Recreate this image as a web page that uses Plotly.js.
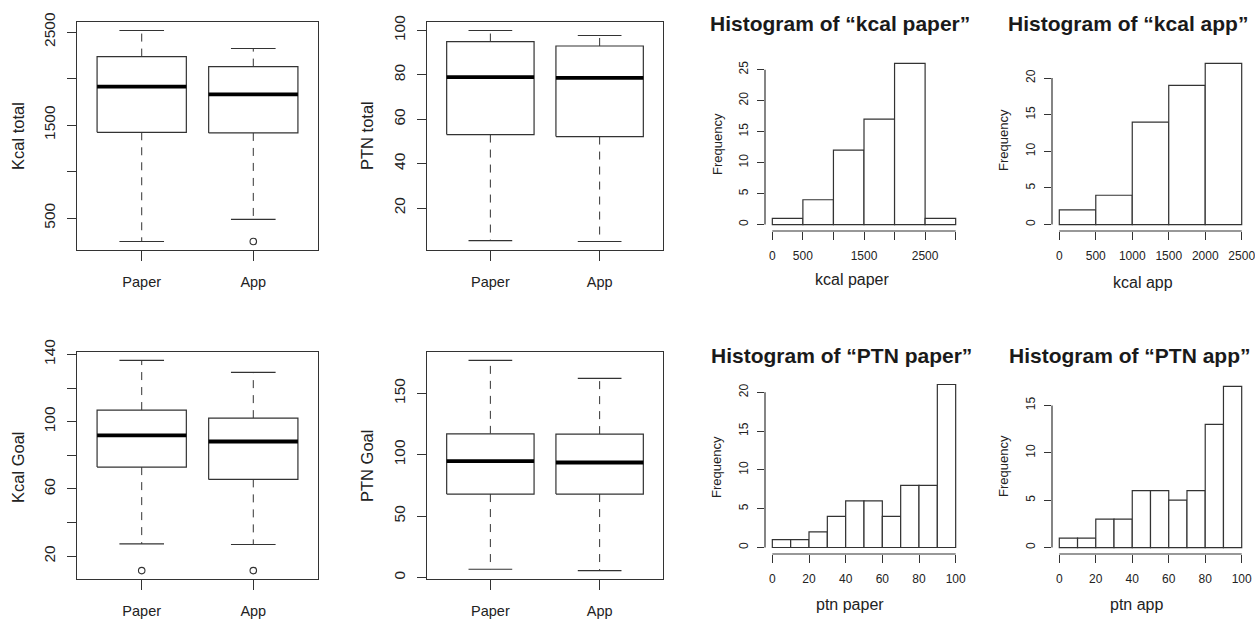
<!DOCTYPE html>
<html><head><meta charset="utf-8">
<script src="https://cdn.plot.ly/plotly-3.0.1.min.js"></script>
<style>html,body{margin:0;padding:0;background:#fff}#chart{width:1255px;height:620px}</style>
</head><body><div id="chart"></div>
<script>
const groups = ['Paper', 'App'];

// ---- Box plot statistics ----
const kcalTotalLower = [247, 485];
const kcalTotalQ1 = [1422, 1415];
const kcalTotalMedian = [1912, 1830];
const kcalTotalQ3 = [2236, 2128];
const kcalTotalUpper = [2517, 2323];
const kcalTotalOutliers = [[], [247]];
const kcalTotalTicks = [500, 1000, 1500, 2000, 2500];
const kcalTotalTickText = ['500', '', '1500', '', '2500'];

const ptnTotalLower = [5.3, 4.9];
const ptnTotalQ1 = [53.1, 52.2];
const ptnTotalMedian = [79.0, 78.6];
const ptnTotalQ3 = [95.0, 93.0];
const ptnTotalUpper = [100, 97.7];
const ptnTotalOutliers = [[], []];
const ptnTotalTicks = [20, 40, 60, 80, 100];
const ptnTotalTickText = ['20', '40', '60', '80', '100'];

const kcalGoalLower = [27.4, 27.0];
const kcalGoalQ1 = [73.0, 65.7];
const kcalGoalMedian = [91.8, 88.2];
const kcalGoalQ3 = [106.9, 102.1];
const kcalGoalUpper = [136.4, 129.3];
const kcalGoalOutliers = [[11.5], [11.5]];
const kcalGoalTicks = [20, 40, 60, 80, 100, 120, 140];
const kcalGoalTickText = ['20', '', '60', '', '100', '', '140'];

const ptnGoalLower = [6.8, 5.7];
const ptnGoalQ1 = [68, 68];
const ptnGoalMedian = [94.8, 93.7];
const ptnGoalQ3 = [117, 116.8];
const ptnGoalUpper = [176.8, 162.2];
const ptnGoalOutliers = [[], []];
const ptnGoalTicks = [0, 50, 100, 150];
const ptnGoalTickText = ['0', '50', '100', '150'];

// ---- Histograms ----
const kcalPaperEdges = [0, 500, 1000, 1500, 2000, 2500, 3000];
const kcalPaperCounts = [1, 4, 12, 17, 26, 1];
const kcalPaperXTicks = [0, 500, 1000, 1500, 2000, 2500, 3000];
const kcalPaperXTickText = ['0', '500', '', '1500', '', '2500', ''];
const kcalPaperYTicks = [0, 5, 10, 15, 20, 25];

const kcalAppEdges = [0, 500, 1000, 1500, 2000, 2500];
const kcalAppCounts = [2, 4, 14, 19, 22];
const kcalAppXTicks = [0, 500, 1000, 1500, 2000, 2500];
const kcalAppXTickText = ['0', '500', '1000', '1500', '2000', '2500'];
const kcalAppYTicks = [0, 5, 10, 15, 20];

const ptnPaperEdges = [0, 10, 20, 30, 40, 50, 60, 70, 80, 90, 100];
const ptnPaperCounts = [1, 1, 2, 4, 6, 6, 4, 8, 8, 21];
const ptnPaperXTicks = [0, 20, 40, 60, 80, 100];
const ptnPaperXTickText = ['0', '20', '40', '60', '80', '100'];
const ptnPaperYTicks = [0, 5, 10, 15, 20];

const ptnAppEdges = [0, 10, 20, 30, 40, 50, 60, 70, 80, 90, 100];
const ptnAppCounts = [1, 1, 3, 3, 6, 6, 5, 6, 13, 17];
const ptnAppXTicks = [0, 20, 40, 60, 80, 100];
const ptnAppXTickText = ['0', '20', '40', '60', '80', '100'];
const ptnAppYTicks = [0, 5, 10, 15];

// ---- Layout helpers ----
const W = 1255, H = 620;
const FONT = '"Liberation Sans", Arial, sans-serif';
const INK = '#333';
const TXT = '#222';
const dX = (a, b) => [a / W, b / W];
const dY = (top, bottom) => [1 - bottom / H, 1 - top / H];
const ax = k => (k === 1 ? '' : String(k));

const traces = [];
const layout = {
  width: W, height: H,
  margin: {l: 0, r: 0, t: 0, b: 0},
  paper_bgcolor: '#fff', plot_bgcolor: 'rgba(0,0,0,0)',
  showlegend: false,
  font: {family: FONT, color: TXT},
  shapes: [], annotations: []
};

function rExt(lo, hi) { const s = hi - lo; return [lo - 0.04 * s, hi + 0.04 * s]; }

function addBox(k, xd, yd, lower, q1, med, q3, upper, outl, ticks, tickText, ytitle, titlePos) {
  const xa = 'x' + ax(k), ya = 'y' + ax(k);
  const rx = [], ry = [], mx = [], my = [], wx = [], wy = [], cx = [], cy = [], ox = [], oy = [];
  const hw = 0.4, cw = 0.2;
  let lo = Infinity, hi = -Infinity;
  for (let i = 0; i < groups.length; i++) {
    const c = i + 1;
    rx.push(c - hw, c + hw, c + hw, c - hw, c - hw, null);
    ry.push(q1[i], q1[i], q3[i], q3[i], q1[i], null);
    mx.push(c - hw, c + hw, null); my.push(med[i], med[i], null);
    wx.push(c, c, null, c, c, null); wy.push(q3[i], upper[i], null, q1[i], lower[i], null);
    cx.push(c - cw, c + cw, null, c - cw, c + cw, null);
    cy.push(upper[i], upper[i], null, lower[i], lower[i], null);
    outl[i].forEach(v => { ox.push(c); oy.push(v); lo = Math.min(lo, v); hi = Math.max(hi, v); });
    lo = Math.min(lo, lower[i]); hi = Math.max(hi, upper[i]);
  }
  const base = {type: 'scatter', mode: 'lines', xaxis: xa, yaxis: ya, hoverinfo: 'skip', cliponaxis: false};
  traces.push(Object.assign({}, base, {x: wx, y: wy, line: {color: INK, width: 1, dash: '8px,7px'}}));
  traces.push(Object.assign({}, base, {x: cx, y: cy, line: {color: INK, width: 1.1}}));
  traces.push(Object.assign({}, base, {x: rx, y: ry, line: {color: INK, width: 1.2}, fill: 'toself', fillcolor: '#fff'}));
  traces.push(Object.assign({}, base, {x: mx, y: my, line: {color: '#000', width: 3.8}}));
  if (ox.length) traces.push(Object.assign({}, base, {mode: 'markers', x: ox, y: oy,
    marker: {symbol: 'circle-open', size: 6.5, color: INK, line: {width: 1.1, color: INK}}}));
  layout['xaxis' + ax(k)] = {
    domain: dX(xd[0], xd[1]), anchor: ya, range: [0.42, 2.58],
    tickvals: [1, 2], ticktext: groups, ticks: 'outside', ticklen: 10, tickcolor: INK, tickwidth: 1,
    showline: true, mirror: true, linecolor: INK, linewidth: 1, showgrid: false, zeroline: false,
    tickfont: {size: 14.5, color: TXT}, ticklabelstandoff: 9, fixedrange: true
  };
  layout['yaxis' + ax(k)] = {
    domain: dY(yd[0], yd[1]), anchor: xa, range: rExt(lo, hi),
    tickvals: ticks, ticktext: tickText, ticks: 'outside', ticklen: 9, tickcolor: INK, tickwidth: 1,
    showline: true, mirror: true, linecolor: INK, linewidth: 1, showgrid: false, zeroline: false,
    tickangle: -90, tickfont: {size: 15.5, color: TXT}, ticklabelstandoff: 6, fixedrange: true
  };
  layout.annotations.push({text: ytitle, xref: 'paper', yref: 'paper', x: titlePos[0] / W, y: 1 - titlePos[1] / H,
    xanchor: 'center', yanchor: 'middle', textangle: -90, showarrow: false, font: {size: 16.5, color: TXT}});
}

function addHist(k, xd, yd, edges, counts, xticks, xtickText, yticks, title, titlePos, xtitle, xtitlePos, ftitlePos) {
  const xa = 'x' + ax(k), ya = 'y' + ax(k);
  const mids = [], widths = [];
  for (let i = 0; i < counts.length; i++) { mids.push((edges[i] + edges[i + 1]) / 2); widths.push(edges[i + 1] - edges[i]); }
  traces.push({type: 'bar', x: mids, y: counts, width: widths, xaxis: xa, yaxis: ya, hoverinfo: 'skip',
    marker: {color: '#fff', line: {color: INK, width: 1.2}}});
  const ymax = Math.max.apply(null, counts);
  layout['xaxis' + ax(k)] = {
    domain: dX(xd[0], xd[1]), anchor: ya, range: rExt(edges[0], edges[edges.length - 1]),
    tickvals: xticks, ticktext: xtickText, ticks: 'outside', ticklen: 8, tickcolor: INK, tickwidth: 1,
    showline: false, showgrid: false, zeroline: false, tickfont: {size: 12, color: TXT},
    ticklabelstandoff: 6, ticklabeloverflow: 'allow', fixedrange: true
  };
  layout['yaxis' + ax(k)] = {
    domain: dY(yd[0], yd[1]), anchor: xa, range: rExt(0, ymax),
    tickvals: yticks, ticks: 'outside', ticklen: 7, tickcolor: INK, tickwidth: 1,
    showline: false, showgrid: false, zeroline: false, tickangle: -90, tickfont: {size: 12, color: TXT},
    ticklabelstandoff: 4, fixedrange: true
  };
  layout.shapes.push({type: 'line', xref: xa, yref: ya + ' domain', x0: xticks[0], x1: xticks[xticks.length - 1],
    y0: 0, y1: 0, line: {color: INK, width: 1.2}});
  layout.shapes.push({type: 'line', xref: xa + ' domain', yref: ya, x0: 0, x1: 0, y0: yticks[0],
    y1: yticks[yticks.length - 1], line: {color: INK, width: 1.2}});
  layout.annotations.push({text: title, xref: 'paper', yref: 'paper', x: titlePos[0] / W, y: 1 - titlePos[1] / H,
    xanchor: 'center', yanchor: 'middle', showarrow: false, font: {size: 21, weight: 'bold', color: '#1a1a1a'}});
  layout.annotations.push({text: xtitle, xref: 'paper', yref: 'paper', x: xtitlePos[0] / W, y: 1 - xtitlePos[1] / H,
    xanchor: 'center', yanchor: 'middle', showarrow: false, font: {size: 16, color: TXT}});
  layout.annotations.push({text: 'Frequency', xref: 'paper', yref: 'paper', x: ftitlePos[0] / W, y: 1 - ftitlePos[1] / H,
    xanchor: 'center', yanchor: 'middle', textangle: -90, showarrow: false, font: {size: 13, color: TXT}});
}

addBox(1, [77, 318], [22, 250], kcalTotalLower, kcalTotalQ1, kcalTotalMedian, kcalTotalQ3, kcalTotalUpper,
  kcalTotalOutliers, kcalTotalTicks, kcalTotalTickText, 'Kcal total', [18, 136]);
addBox(2, [427, 663], [22, 250], ptnTotalLower, ptnTotalQ1, ptnTotalMedian, ptnTotalQ3, ptnTotalUpper,
  ptnTotalOutliers, ptnTotalTicks, ptnTotalTickText, 'PTN total', [367, 136]);
addHist(3, [765, 963], [57, 231], kcalPaperEdges, kcalPaperCounts, kcalPaperXTicks, kcalPaperXTickText,
  kcalPaperYTicks, 'Histogram of “kcal paper”', [840, 24], 'kcal paper', [852, 279], [717, 144]);
addHist(4, [1052, 1249], [57, 231], kcalAppEdges, kcalAppCounts, kcalAppXTicks, kcalAppXTickText,
  kcalAppYTicks, 'Histogram of “kcal app”', [1128, 24], 'kcal app', [1143, 282], [1003, 140]);
addBox(5, [77, 318], [352, 579], kcalGoalLower, kcalGoalQ1, kcalGoalMedian, kcalGoalQ3, kcalGoalUpper,
  kcalGoalOutliers, kcalGoalTicks, kcalGoalTickText, 'Kcal Goal', [18, 467]);
addBox(6, [427, 663], [352, 579], ptnGoalLower, ptnGoalQ1, ptnGoalMedian, ptnGoalQ3, ptnGoalUpper,
  ptnGoalOutliers, ptnGoalTicks, ptnGoalTickText, 'PTN Goal', [367, 466]);
addHist(7, [765, 963], [378, 554], ptnPaperEdges, ptnPaperCounts, ptnPaperXTicks, ptnPaperXTickText,
  ptnPaperYTicks, 'Histogram of “PTN paper”', [841, 355], 'ptn paper', [850, 604], [717, 467]);
addHist(8, [1052, 1249], [380, 554], ptnAppEdges, ptnAppCounts, ptnAppXTicks, ptnAppXTickText,
  ptnAppYTicks, 'Histogram of “PTN app”', [1130, 355], 'ptn app', [1136, 604], [1003, 466]);

layout.bargap = 0;
Plotly.newPlot('chart', traces, layout, {displayModeBar: false, staticPlot: true});
</script>
</body></html>
